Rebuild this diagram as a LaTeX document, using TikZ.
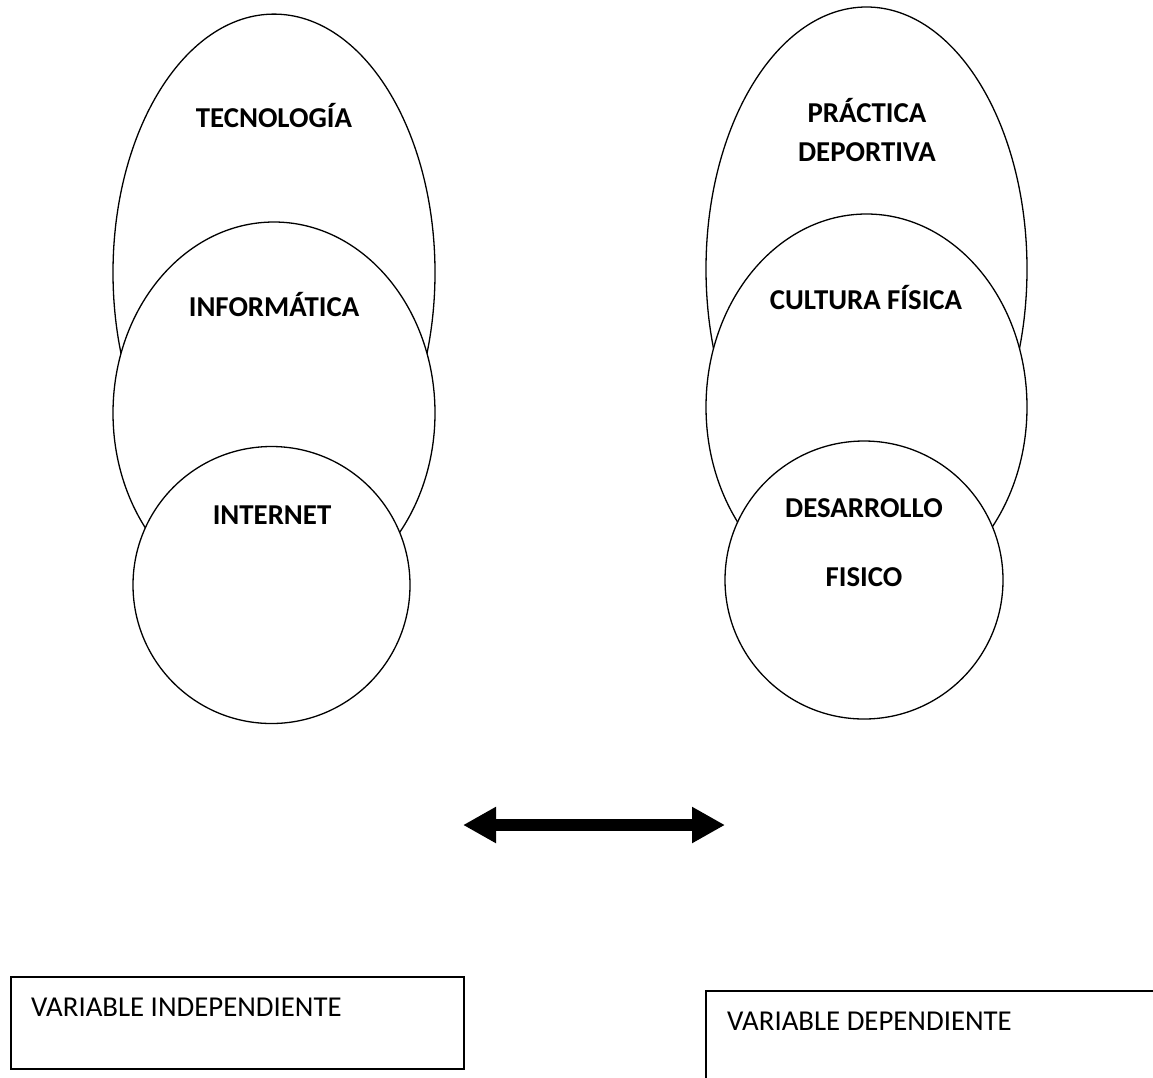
\documentclass[tikz,border=0pt]{standalone}
\usepackage{fontspec}
\setmainfont{Carlito}
\usetikzlibrary{shapes.geometric,arrows.meta}
\begin{document}
\begin{tikzpicture}[x=1pt,y=-1pt,
  oval/.style={draw=black,line width=1.3pt,fill=white,ellipse,inner sep=0pt},
  lbl/.style={font=\fontsize{28.8}{34}\selectfont\bfseries,anchor=base,inner sep=0pt},
  vtxt/.style={font=\fontsize{28.8}{34}\selectfont,anchor=base west,inner sep=0pt},
  vbox/.style={draw=black,line width=1.6pt,anchor=north west,inner sep=0pt}]
\useasboundingbox (0,0) rectangle (1153,1077);
\clip (0,0) rectangle (1153,1077);
% left group
\node[oval,minimum width=322pt,minimum height=517pt] (tec) at (274,272.6) {};
\node[oval,minimum width=322pt,minimum height=382pt] (inf) at (274,413) {};
\node[oval,minimum width=277pt,minimum height=277pt] (int) at (271.5,585) {};
\node[lbl] (tTec) at (274,127.3) {TECNOLOGÍA};
\node[lbl] (tInf) at (274,316.3) {INFORMÁTICA};
\node[lbl] (tInt) at (272,524.3) {INTERNET};
% right group
\node[oval,minimum width=321pt,minimum height=524pt] (pra) at (866.5,269) {};
\node[oval,minimum width=321pt,minimum height=386pt] (cul) at (866.5,407) {};
\node[oval,minimum width=278pt,minimum height=278pt] (des) at (864,580) {};
\node[lbl] (tPra) at (867,122.3) {PRÁCTICA};
\node[lbl] (tDep) at (867,161.3) {DEPORTIVA};
\node[lbl] (tCul) at (866,309.3) {CULTURA FÍSICA};
\node[lbl] (tDes) at (864,517.3) {DESARROLLO};
\node[lbl] (tFis) at (864,586.3) {FISICO};
% arrow
\coordinate (aL) at (463,825);
\coordinate (aR) at (725,825);
\draw[line width=12pt,{Triangle[length=33pt,width=34pt]}-{Triangle[length=33pt,width=34pt]}] (aL) -- (aR);
% boxes
\node[vbox,minimum width=453pt,minimum height=92pt] (boxL) at (10,976) {};
\node[vtxt] (vInd) at (31,1016) {VARIABLE INDEPENDIENTE};
\node[vbox,minimum width=470pt,minimum height=120pt] (boxR) at (705,990) {};
\node[vtxt] (vDep) at (727,1030) {VARIABLE DEPENDIENTE};
\end{tikzpicture}
\end{document}
